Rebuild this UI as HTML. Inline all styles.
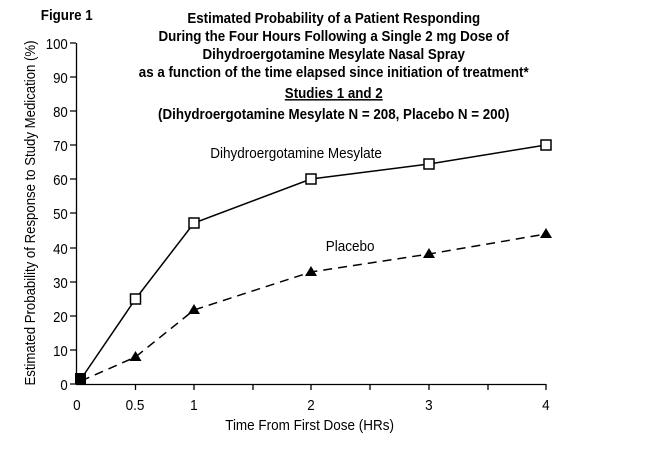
<!DOCTYPE html>
<html><head><style>body{margin:0;background:#fff}svg{display:block}text{font-family:"Liberation Sans",sans-serif}</style></head><body>
<svg width="665" height="461" viewBox="0 0 665 461">
<g font-weight="bold" font-size="15" text-anchor="middle" fill="#000" transform="scale(0.89,1)">
<text x="375" y="23">Estimated Probability of a Patient Responding</text>
<text x="375" y="41">During the Four Hours Following a Single 2 mg Dose of</text>
<text x="375" y="59">Dihydroergotamine Mesylate Nasal Spray</text>
<text x="375" y="77">as a function of the time elapsed since initiation of treatment*</text>
<text x="375" y="98" text-decoration="underline">Studies 1 and 2</text>
<text x="375" y="119">(Dihydroergotamine Mesylate N = 208, Placebo N = 200)</text>
<text x="75" y="20">Figure 1</text>
</g>
<g stroke="#000" stroke-width="1.3" fill="none">
<path d="M76.5 43V384.5H546"/>
<path d="M70 43H76M70 77H76M70 111H76M70 145H76M70 179H76M70 213H76M70 248H76M70 282H76M70 316H76M70 350H76M70 384H76"/>
<path d="M135.5 384v6M194 384v6M253 384v6M311 384v6M370 384v6M429 384v6M488 384v6M546 384v6"/>
</g>
<g font-size="15" text-anchor="end" transform="scale(0.88,1)">
<text x="77" y="49">100</text><text x="77" y="83">90</text><text x="77" y="117">80</text><text x="77" y="151">70</text><text x="77" y="185">60</text><text x="77" y="219">50</text><text x="77" y="254">40</text><text x="77" y="288">30</text><text x="77" y="322">20</text><text x="77" y="356">10</text><text x="77" y="390">0</text>
</g>
<g font-size="15" text-anchor="middle">
<g transform="scale(0.9,1)">
<text x="85.5" y="410">0</text><text x="150" y="410">0.5</text><text x="215.5" y="410">1</text><text x="345.5" y="410">2</text><text x="476.5" y="410">3</text><text x="606.5" y="410">4</text>
<text x="344" y="430">Time From First Dose (HRs)</text>
<text x="329" y="158">Dihydroergotamine Mesylate</text>
<text x="389" y="251">Placebo</text>
</g>
<text transform="translate(35,213) rotate(-90) scale(0.88,1)">Estimated Probability of Response to Study Medication (%)</text>
</g>
<polyline points="81,379 135.5,299 194,223 311,179 429,164 546,145" fill="none" stroke="#000" stroke-width="1.5"/>
<polyline points="81,381 135.5,357 194,310 311,272 429,254 546,234" fill="none" stroke="#000" stroke-width="1.5" stroke-dasharray="9,6"/>
<rect x="75" y="373" width="11" height="11" fill="#000"/>
<g fill="#fff" stroke="#000" stroke-width="1.5">
<rect x="130.5" y="294" width="10" height="10"/><rect x="189" y="218" width="10" height="10"/><rect x="306" y="174" width="10" height="10"/><rect x="424" y="159" width="10" height="10"/><rect x="541" y="140" width="10" height="10"/>
</g>
<g fill="#000">
<path d="M135.5 351l6 10h-12z"/><path d="M194 304l6 10h-12z"/><path d="M311 266l6 10h-12z"/><path d="M429 248l6 10h-12z"/><path d="M546 228l6 10h-12z"/>
</g>
</svg>
</body></html>
